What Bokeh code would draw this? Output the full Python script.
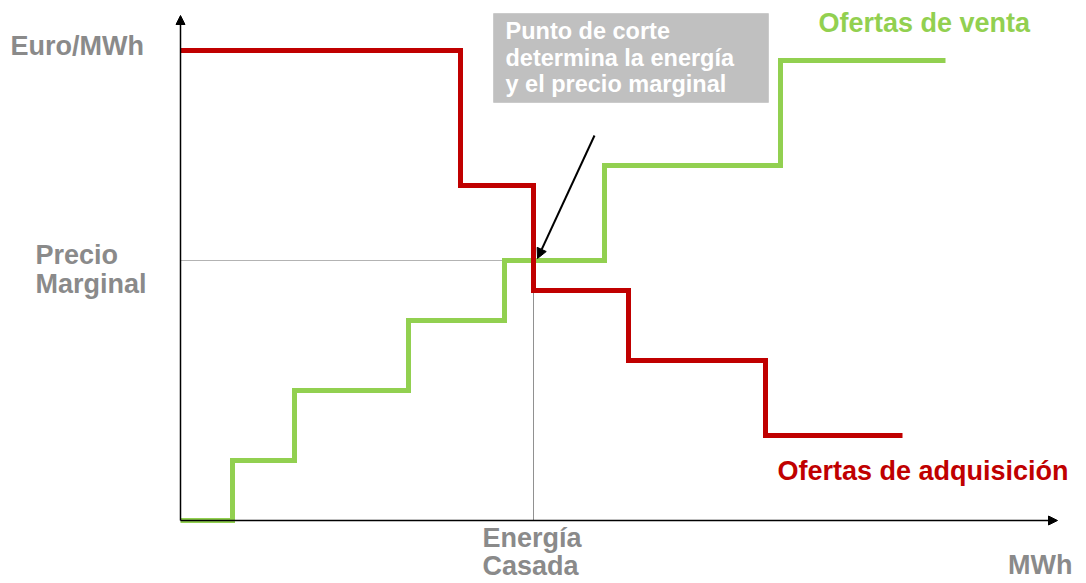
from bokeh.plotting import figure
from bokeh.models import Range1d, Label, BoxAnnotation, Arrow, NormalHead
from bokeh.embed import file_html
from bokeh.resources import INLINE

# Demand bids (ofertas de adquisición): price levels and quantity breakpoints
demand_breaks = [0, 56, 70.6, 89.6, 117, 144.4]
demand_prices = [94, 67, 46, 32, 17]

# Supply bids (ofertas de venta): price levels and quantity breakpoints
supply_breaks = [0, 10.4, 22.8, 45.6, 64.8, 84.8, 120, 153]
supply_prices = [0, 12, 26, 40, 52, 71, 92]

# Matching point
energia_casada = 70.6
precio_marginal = 52

RED = "#c00000"
GREEN = "#92d050"
GREY_TXT = "#8a8a8a"
FONT = "Liberation Sans"


def step_path(breaks, levels):
    xs, ys = [], []
    for i, lvl in enumerate(levels):
        xs += [breaks[i], breaks[i + 1]]
        ys += [lvl, lvl]
    return xs, ys


p = figure(width=1086, height=583, x_range=Range1d(-36, 181.2), y_range=Range1d(-12.6, 104),
           x_axis_type=None, y_axis_type=None, output_backend="svg", toolbar_location=None,
           min_border=0)
p.grid.visible = False
p.outline_line_color = None
p.background_fill_color = "white"

# Guide lines to the matching point
p.line([0, supply_breaks[4]], [precio_marginal, precio_marginal], line_color="#666666",
       line_width=1, line_dash="1 1")
p.line([energia_casada, energia_casada], [0, demand_prices[2]], line_color="#222222",
       line_width=1, line_dash="1 1")

# Axes drawn as arrows
p.add_layout(Arrow(x_start=0, y_start=0, x_end=0, y_end=101, line_color="black", line_width=1.5,
                   end=NormalHead(size=9, fill_color="black", line_color="black")))
p.add_layout(Arrow(x_start=0, y_start=0, x_end=175.4, y_end=0, line_color="black", line_width=1.5,
                   end=NormalHead(size=9, fill_color="black", line_color="black")))

# Step curves
sx, sy = step_path(supply_breaks, supply_prices)
p.line(sx, sy, line_color=GREEN, line_width=5, line_join="miter")
dx, dy = step_path(demand_breaks, demand_prices)
p.line(dx, dy, line_color=RED, line_width=5, line_join="miter")

# Annotation box
p.add_layout(BoxAnnotation(left=62.6, right=117.6, bottom=83.6, top=101.4, fill_color="#c0c0c0",
                           fill_alpha=1, line_color="#a0a0a0", line_width=1))
for txt, yy in [("Punto de corte", 98), ("determina la energía", 92.6), ("y el precio marginal", 87.4)]:
    p.add_layout(Label(x=65, y=yy, text=txt, text_color="white", text_font=FONT, text_font_style="bold",
                       text_font_size="23.5px", text_baseline="middle"))

p.add_layout(Arrow(x_start=82.8, y_start=77, x_end=energia_casada + 0.8, y_end=precio_marginal + 0.4,
                   line_color="black", line_width=2,
                   end=NormalHead(size=10, fill_color="black", line_color="black")))

# Axis and series labels
def lab(x, y, txt, color, align="left", size="27px"):
    p.add_layout(Label(x=x, y=y, text=txt, text_color=color, text_font=FONT, text_font_style="bold",
                       text_font_size=size, text_baseline="middle", text_align=align))

lab(-34, 95, "Euro/MWh", GREY_TXT)
lab(-29, 53.2, "Precio", GREY_TXT)
lab(-29, 47.4, "Marginal", GREY_TXT)
lab(60.4, -3.4, "Energía", GREY_TXT)
lab(60.4, -9.0, "Casada", GREY_TXT)
lab(178.4, -8.8, "MWh", GREY_TXT, align="right")
lab(127.6, 99.6, "Ofertas de venta", GREEN)
lab(119.4, 10, "Ofertas de adquisición", RED)

open("out.html", "w").write(file_html(p, INLINE))
